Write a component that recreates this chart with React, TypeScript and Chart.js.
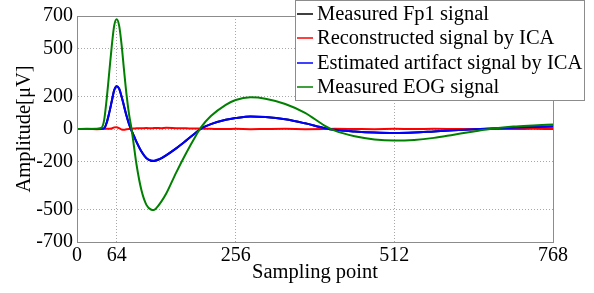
import React, { useEffect, useRef } from "react";
import { Chart, registerables } from "chart.js";

Chart.register(...registerables);

const samplePoints = [0, 16, 32, 40, 44, 48, 52, 56, 60, 64, 68, 72, 76, 80, 84, 88, 92, 96, 104, 112, 120, 124, 128, 136, 144, 160, 176, 192, 200, 216, 240, 256, 280, 304, 336, 368, 400, 416, 448, 480, 512, 544, 576, 608, 640, 672, 704, 736, 768];

const eogSignal = [0, 0, 1, 10, 60, 190, 350, 510, 640, 680, 640, 520, 360, 210, 90, 0, -110, -220, -380, -470, -500, -502, -490, -450, -400, -270, -150, -40, 10, 80, 150, 180, 196, 188, 155, 100, 20, -10, -45, -65, -72, -68, -55, -35, -15, 3, 15, 22, 28];

const artifactSignal = [0, 0, 0, 1, 5, 40, 100, 170, 240, 265, 250, 200, 140, 80, 30, -10, -45, -80, -140, -180, -195, -196, -192, -180, -162, -120, -72, -22, 2, 30, 57, 68, 78, 74, 60, 35, 5, -5, -15, -22, -25, -22, -15, -8, -2, 3, 8, 12, 16];

const reconstructedSignal = [0, 1, -1, 0, 1, 2, 2, 3, 10, 11, 5, -3, -5, -2, 0, 2, 3, 4, 5, 6, 4, 6, 6, 5, 7, 5, 4, 3, 2, 1, 0, 1, -1, 0, 1, -1, 0, 1, 0, -1, 1, 0, 1, 0, -1, 1, 0, 1, 0];

const fp1Signal = [0, 0, 0, 1, 5, 40, 100, 170, 240, 265, 250, 200, 140, 80, 30, -10, -45, -80, -140, -182, -198, -199, -195, -182, -163, -120, -72, -22, 2, 30, 57, 68, 78, 74, 60, 35, 5, -5, -15, -22, -25, -22, -15, -8, -2, 3, 8, 12, 16];

const xTicks = [0, 64, 256, 512, 768];
const yTicks = [-700, -500, -200, 0, 200, 500, 700];

const seriesNames = [
  "Measured Fp1 signal",
  "Reconstructed signal by ICA",
  "Estimated artifact signal by ICA",
  "Measured EOG signal",
];
const seriesColors = ["#000000", "#ff0000", "#0000ff", "#008000"];

const FONT = "'Liberation Serif', 'Times New Roman', serif";

function toPoints(vals: number[]) {
  return samplePoints.map((x, i) => ({ x, y: vals[i] }));
}

const frameAndLegend = {
  id: "frameAndLegend",
  afterDraw(chart: any) {
    const ctx = chart.ctx;
    const a = chart.chartArea;
    ctx.save();
    ctx.strokeStyle = "#8c8c8c";
    ctx.lineWidth = 1;
    ctx.strokeRect(Math.round(a.left) + 0.5, Math.round(a.top) + 0.5, Math.round(a.right - a.left), Math.round(a.bottom - a.top));

    // legend box
    const bx = 295.5, by = 0.5, bw = 289, bh = 100;
    ctx.fillStyle = "#ffffff";
    ctx.fillRect(bx, by, bw, bh);
    ctx.strokeStyle = "#8c8c8c";
    ctx.strokeRect(bx, by, bw, bh);
    ctx.font = `20.5px ${FONT}`;
    ctx.textBaseline = "middle";
    ctx.textAlign = "left";
    const rows = [14, 38, 63, 87];
    seriesNames.forEach((name, i) => {
      ctx.strokeStyle = seriesColors[i];
      ctx.lineWidth = 1.5;
      ctx.beginPath();
      ctx.moveTo(297, rows[i]);
      ctx.lineTo(313, rows[i]);
      ctx.stroke();
      ctx.fillStyle = "#000";
      ctx.fillText(name, 317, rows[i] + 1);
    });
    ctx.restore();
  },
};

export default function App() {
  const ref = useRef<HTMLCanvasElement | null>(null);
  useEffect(() => {
    if (!ref.current) return;
    const values = [fp1Signal, reconstructedSignal, artifactSignal, eogSignal];
    const orders = [4, 3, 2, 1];
    const widths = [2, 2, 2, 2];
    const chart = new Chart(ref.current, {
      type: "line",
      data: {
        datasets: seriesNames.map((name, i) => ({
          label: name,
          data: toPoints(values[i]),
          borderColor: seriesColors[i],
          backgroundColor: seriesColors[i],
          borderWidth: widths[i],
          pointRadius: 0,
          cubicInterpolationMode: "monotone" as const,
          fill: false,
          order: orders[i],
        })),
      },
      options: {
        animation: false,
        responsive: false,
        maintainAspectRatio: false,
        layout: { padding: { left: 12, right: 41, top: 15, bottom: 0 } },
        plugins: { legend: { display: false }, tooltip: { enabled: false } },
        scales: {
          x: {
            type: "linear",
            min: 0,
            max: 768,
            afterBuildTicks: (s: any) => {
              s.ticks = xTicks.map((v) => ({ value: v }));
            },
            afterFit: (s: any) => {
              s.height = 51;
            },
            grid: {
              color: "#a8a8a8",
              lineWidth: 1,
              drawTicks: false,
            },
            border: { display: true, color: "#8c8c8c", dash: [1, 2] },
            ticks: {
              color: "#000",
              font: { family: FONT, size: 20 },
              padding: 2,
              maxRotation: 0,
            },
            title: {
              display: true,
              text: "Sampling point",
              color: "#000",
              font: { family: FONT, size: 20.5 },
              padding: { top: 0, bottom: 8 },
            },
          },
          y: {
            type: "linear",
            min: -700,
            max: 700,
            afterBuildTicks: (s: any) => {
              s.ticks = yTicks.map((v) => ({ value: v }));
            },
            afterFit: (s: any) => {
              s.width = 65;
            },
            grid: {
              color: "#a8a8a8",
              lineWidth: 1,
              drawTicks: false,
            },
            border: { display: true, color: "#8c8c8c", dash: [1, 2] },
            ticks: {
              color: "#000",
              font: { family: FONT, size: 20 },
              padding: 4,
            },
            title: {
              display: true,
              text: "Amplitude[\u03bcV]",
              color: "#000",
              font: { family: FONT, size: 20.5 },
              padding: { top: 0, bottom: 0 },
            },
          },
        },
      },
      plugins: [frameAndLegend],
    });
    return () => chart.destroy();
  }, []);
  return (
    <div style={{ position: "fixed", left: 0, top: 0, width: 594, height: 293, background: "#fff" }}>
      <canvas ref={ref} width={594} height={293} style={{ display: "block" }} />
    </div>
  );
}
